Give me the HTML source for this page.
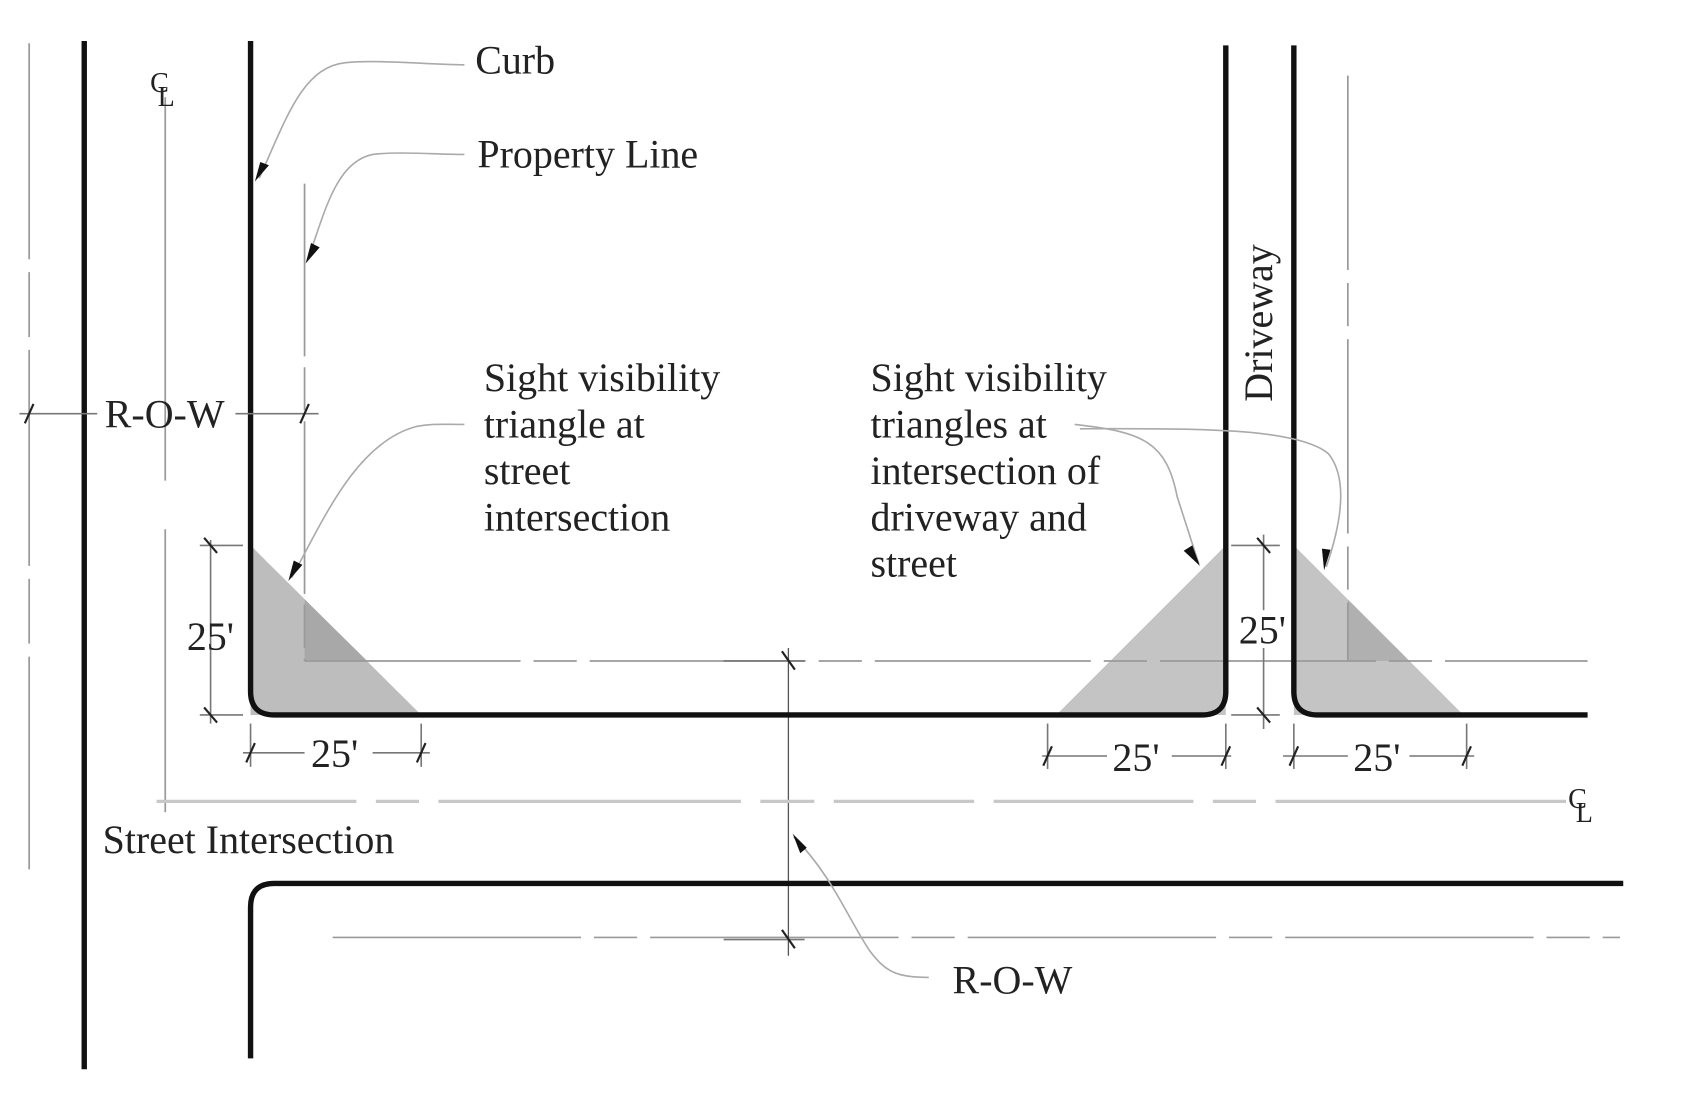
<!DOCTYPE html>
<html><head><meta charset="utf-8"><style>
html,body{margin:0;padding:0;background:#fff;}
svg{display:block;}
text{font-family:"Liberation Serif",serif;fill:#222;}
</style></head><body>
<svg width="1694" height="1103" viewBox="0 0 1694 1103" xmlns="http://www.w3.org/2000/svg">
<rect width="1694" height="1103" fill="#fff"/>
<g transform="scale(1.08)">
<!-- triangles -->
<polygon points="232,505 232,662 390,662" fill="#bdbdbd"/>
<polygon points="1135,505 1135,662 978,662" fill="#c4c4c4"/>
<polygon points="1198,505 1198,662 1355,662" fill="#c4c4c4"/>
<polygon points="282,555 282,612 340,612" fill="#a8a8a8"/>
<polygon points="1248,555 1248,612 1305,612" fill="#b0b0b0"/>
<!-- thin lines -->
<g stroke="#9a9a9a" stroke-width="1.6" fill="none">
<line x1="27" y1="40" x2="27" y2="805" stroke-dasharray="200 12 60 12"/>
<line x1="153" y1="90" x2="153" y2="445"/>
<line x1="153" y1="490" x2="153" y2="752"/>
<line x1="282" y1="170" x2="282" y2="612" stroke-dasharray="160 10 40 10"/>
<line x1="282" y1="612" x2="1470" y2="612" stroke-dasharray="200 12 40 12"/>
<line x1="1248" y1="70" x2="1248" y2="612" stroke-dasharray="180 12 40 12"/>
<line x1="308" y1="868" x2="1500" y2="868" stroke-dasharray="230 12 40 12"/>
<line x1="730" y1="600" x2="730" y2="885" stroke="#555" stroke-width="1.2"/>
</g>
<line x1="145" y1="742" x2="1450" y2="742" stroke="#c8c8c8" stroke-width="3" stroke-dasharray="185 18 40 18 280 18 50 18 130 18"/>
<!-- thick curbs -->
<g stroke="#111" stroke-width="5" fill="none" stroke-linecap="butt">
<line x1="78" y1="38" x2="78" y2="990"/>
<path d="M232,38 V640 Q232,662 254,662 H1113 Q1135,662 1135,640 V42"/>
<path d="M1198,42 V640 Q1198,662 1220,662 H1470"/>
<path d="M232,980 V840 Q232,818 254,818 H1503"/>
</g>
<!-- dimension lines -->
<g stroke="#777" stroke-width="1.5" fill="none">
<line x1="18" y1="383" x2="90" y2="383"/>
<line x1="218" y1="383" x2="295" y2="383"/>
<line x1="195" y1="500" x2="195" y2="670"/>
<line x1="185" y1="505" x2="225" y2="505"/>
<line x1="185" y1="662" x2="225" y2="662"/>
<line x1="225" y1="697" x2="282" y2="697"/>
<line x1="345" y1="697" x2="398" y2="697"/>
<line x1="232" y1="670" x2="232" y2="710"/>
<line x1="390" y1="670" x2="390" y2="710"/>
<line x1="965" y1="700" x2="1025" y2="700"/>
<line x1="1085" y1="700" x2="1140" y2="700"/>
<line x1="970" y1="670" x2="970" y2="712"/>
<line x1="1135" y1="670" x2="1135" y2="712"/>
<line x1="1188" y1="700" x2="1248" y2="700"/>
<line x1="1305" y1="700" x2="1365" y2="700"/>
<line x1="1198" y1="670" x2="1198" y2="712"/>
<line x1="1358" y1="670" x2="1358" y2="712"/>
<line x1="1170" y1="495" x2="1170" y2="565"/>
<line x1="1170" y1="600" x2="1170" y2="675"/>
<line x1="1140" y1="505" x2="1185" y2="505"/>
<line x1="1140" y1="662" x2="1185" y2="662"/>
<line x1="670" y1="612" x2="745" y2="612"/>
<line x1="670" y1="870" x2="745" y2="870"/>
</g>
<!-- tick marks -->
<g stroke="#222" stroke-width="2">
<line x1="23" y1="392" x2="31" y2="374"/>
<line x1="278" y1="392" x2="286" y2="374"/>
<line x1="189" y1="498" x2="201" y2="512"/>
<line x1="189" y1="655" x2="201" y2="669"/>
<line x1="228" y1="706" x2="236" y2="688"/>
<line x1="386" y1="706" x2="394" y2="688"/>
<line x1="966" y1="709" x2="974" y2="691"/>
<line x1="1131" y1="709" x2="1139" y2="691"/>
<line x1="1194" y1="709" x2="1202" y2="691"/>
<line x1="1354" y1="709" x2="1362" y2="691"/>
<line x1="1164" y1="498" x2="1176" y2="512"/>
<line x1="1164" y1="655" x2="1176" y2="669"/>
<line x1="724" y1="603" x2="736" y2="620"/>
<line x1="724" y1="861" x2="736" y2="878"/>
</g>
<!-- leaders -->
<g stroke="#aaa" stroke-width="1.5" fill="none">
<path d="M430,60 C400,60 350,55 320,58 C280,62 265,110 240,165"/>
<path d="M430,143 C400,143 370,140 345,143 C310,150 300,200 285,240"/>
<path d="M430,393 C410,393 400,392 385,395 C330,410 300,480 270,535"/>
<path d="M995,393 C1060,400 1080,410 1090,460 L1110,522"/>
<path d="M1000,397 C1100,397 1200,395 1230,420 C1250,445 1240,490 1228,525"/>
<path d="M860,905 C830,905 820,900 805,880 C785,850 770,810 735,775"/>
</g>
<!-- arrowheads -->
<g fill="#111">
<polygon points="236,168 241,150 249,153"/>
<polygon points="283,244 288,225 296,229"/>
<polygon points="267,538 272,519 280,523"/>
<polygon points="1111,524 1096,510 1104,505"/>
<polygon points="1226,528 1224,508 1232,509"/>
<polygon points="734,772 747,785 741,790"/>
</g>
<!-- text -->
<g font-size="37">
<text x="440" y="68">Curb</text>
<text x="442" y="155">Property Line</text>
<text x="97" y="396">R-O-W</text>
<text x="448" y="362">Sight visibility</text>
<text x="448" y="405">triangle at</text>
<text x="448" y="448">street</text>
<text x="448" y="491">intersection</text>
<text x="806" y="362">Sight visibility</text>
<text x="806" y="405">triangles at</text>
<text x="806" y="448">intersection of</text>
<text x="806" y="491">driveway and</text>
<text x="806" y="534">street</text>
<text x="95" y="790">Street Intersection</text>
<text x="882" y="920">R-O-W</text>
<text x="173" y="602">25'</text>
<text x="288" y="710">25'</text>
<text x="1030" y="714">25'</text>
<text x="1253" y="714">25'</text>
<text x="1147" y="596">25'</text>
<text transform="translate(1178,372) rotate(-90)">Driveway</text>
</g>
<g font-size="26">
<text x="139" y="85">C</text><text x="146" y="98">L</text>
<text x="1452" y="748">C</text><text x="1459" y="761">L</text>
</g>
</g>
</svg>
</body></html>
